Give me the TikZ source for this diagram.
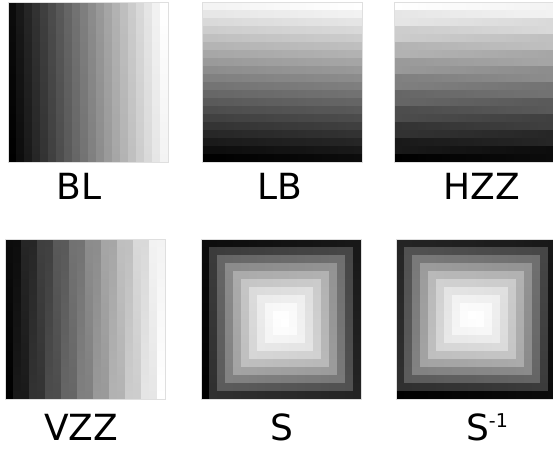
\documentclass[tikz,border=0pt]{standalone}
\usepackage{fontspec}
\setmainfont{DejaVu Sans}
\newcommand\cellat[5]{%
  \pgfmathsetmacro\gv{(#5)/399}%
  \definecolor{cc}{gray}{\gv}%
  \fill[cc] ({#1+8*(#3)},{#2+8*(#4)}) rectangle ++(8.3,8.3);}
\tikzset{
  lab/.style={anchor=base, inner sep=0pt, font=\fontsize{36}{40}\selectfont},
  frame/.style={draw=gray!25, line width=0.6pt}
}
\begin{document}
\begin{tikzpicture}[x=1pt,y=1pt]
\useasboundingbox (0,0) rectangle (553,449);
\fill[white] (0,0) rectangle (553,449);
% BL: columns, bottom to top
\begin{scope}
\clip (8,287) rectangle ++(160,160);
\foreach \c in {0,...,19}{\foreach \r in {0,...,19}{\cellat{8}{287}{\c}{\r}{20*\c+\r}}}
\end{scope}
% LB: rows, left to right
\begin{scope}
\clip (202,287) rectangle ++(160,160);
\foreach \c in {0,...,19}{\foreach \r in {0,...,19}{\cellat{202}{287}{\c}{\r}{20*\r+\c}}}
\end{scope}
% HZZ: boustrophedon rows
\begin{scope}
\clip (394,287) rectangle ++(160,160);
\foreach \c in {0,...,19}{\foreach \r in {0,...,19}{\cellat{394}{287}{\c}{\r}{20*\r+\c+mod(\r,2)*(19-2*\c)}}}
\end{scope}
% VZZ: boustrophedon columns
\begin{scope}
\clip (5,50) rectangle ++(160,160);
\foreach \c in {0,...,19}{\foreach \r in {0,...,19}{\cellat{5}{50}{\c}{\r}{20*\c+\r+mod(\c,2)*(19-2*\r)}}}
\end{scope}
% S: clockwise spiral, outside in, starting bottom-left going up
\begin{scope}
\clip (201,50) rectangle ++(160,160);
\foreach \k in {0,...,9}{
  \pgfmathtruncatemacro\m{19-2*\k}
  \pgfmathtruncatemacro\mm{\m-1}
  \pgfmathtruncatemacro\s{4*\k*(20-\k)}
  \foreach \p in {0,...,\mm}{
    \cellat{201}{50}{\k}{\k+\p}{\s+\p}
    \cellat{201}{50}{\k+\p}{\k+\m}{\s+\m+\p}
    \cellat{201}{50}{\k+\m}{\k+\m-\p}{\s+2*\m+\p}
    \cellat{201}{50}{\k+\m-\p}{\k}{\s+3*\m+\p}
  }}
\end{scope}
% S^-1: counter-clockwise spiral, starting bottom-left going right
\begin{scope}
\clip (396,50) rectangle ++(160,160);
\foreach \k in {0,...,9}{
  \pgfmathtruncatemacro\m{19-2*\k}
  \pgfmathtruncatemacro\mm{\m-1}
  \pgfmathtruncatemacro\s{4*\k*(20-\k)}
  \foreach \p in {0,...,\mm}{
    \cellat{396}{50}{\k+\p}{\k}{\s+\p}
    \cellat{396}{50}{\k+\m}{\k+\p}{\s+\m+\p}
    \cellat{396}{50}{\k+\m-\p}{\k+\m}{\s+2*\m+\p}
    \cellat{396}{50}{\k}{\k+\m-\p}{\s+3*\m+\p}
  }}
\end{scope}
% frames
\draw[frame] (8,287) rectangle ++(160,160);
\draw[frame] (202,287) rectangle ++(160,160);
\draw[frame] (394,287) rectangle ++(160,160);
\draw[frame] (5,50) rectangle ++(160,160);
\draw[frame] (201,50) rectangle ++(160,160);
\draw[frame] (396,50) rectangle ++(160,160);
% labels
\node[lab] (lbl) at (79,249) {BL};
\node[lab] (llb) at (280,249) {LB};
\node[lab] (lhzz) at (482,249) {HZZ};
\node[lab] (lvzz) at (81,9) {VZZ};
\node[lab] (ls) at (282,9) {S};
\node[lab] (lsi) at (487,9) {S\raisebox{13pt}{\fontsize{19}{20}\selectfont -1}};
\end{tikzpicture}
\end{document}
